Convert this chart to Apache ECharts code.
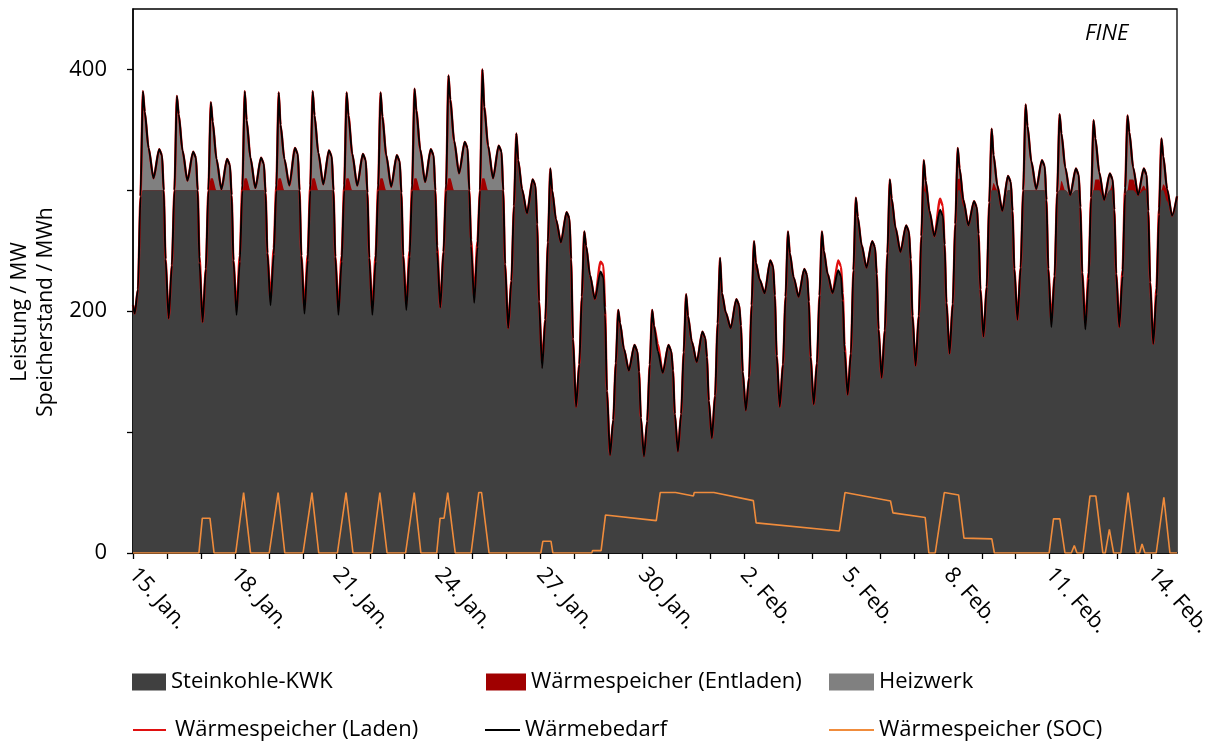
<!DOCTYPE html>
<html>
<head>
<meta charset="utf-8">
<script src="https://cdn.jsdelivr.net/npm/echarts@6/dist/echarts.min.js"></script>
<style>
  html, body { margin: 0; padding: 0; background: #fff; }
  #chart { width: 1217px; height: 747px; }
</style>
</head>
<body>
<div id="chart"></div>
<script>
// Zeitachse: Stunden ab 15. Jan. 00:00, Tagesstriche alle 24 h, Beschriftung alle 3 Tage
const tickLabels = ["15. Jan.", "18. Jan.", "21. Jan.", "24. Jan.", "27. Jan.", "30. Jan.",
                    "2. Feb.", "5. Feb.", "8. Feb.", "11. Feb.", "14. Feb."];
const endStunde = 738;

// Abtastzeitpunkte innerhalb eines Tages (Stunde des Tages)
const tagesStunden = [1.2, 3.5, 5.3, 7, 8.3, 11, 14.5, 18.5, 20.5, 21.7, 23];
const letzteStunden = [1.2, 3.5, 5.3, 7, 8.3, 11, 14.5, 18];

// Wärmebedarf in MW, eine Zeile je Tag
const bedarfStart = 205;
const bedarf = [
  [198, 218, 295, 382, 365, 335, 310, 334, 329, 300, 243],
  [194, 238, 300, 378, 363, 333, 308, 332, 327, 300, 240],
  [191, 235, 300, 373, 357, 326, 301, 326, 321, 296, 242],
  [197, 241, 300, 382, 358, 327, 302, 327, 322, 298, 248],
  [205, 247, 300, 381, 354, 326, 304, 335, 330, 300, 246],
  [198, 242, 300, 382, 362, 331, 305, 333, 328, 300, 245],
  [197, 241, 300, 381, 362, 330, 304, 330, 325, 298, 244],
  [197, 241, 300, 381, 361, 329, 303, 329, 324, 298, 246],
  [201, 245, 300, 384, 366, 334, 307, 334, 329, 300, 249],
  [203, 249, 300, 395, 375, 341, 314, 340, 335, 300, 254],
  [207, 253, 300, 400, 369, 337, 310, 337, 332, 300, 239],
  [186, 225, 287, 347, 325, 301, 281, 309, 304, 272, 208],
  [153, 193, 257, 318, 300, 276, 257, 282, 277, 243, 177],
  [121, 156, 212, 266, 254, 230, 210, 233, 228, 197, 134],
  [81, 110, 157, 201, 190, 169, 151, 172, 167, 150, 112],
  [80, 109, 156, 201, 188, 167, 149, 172, 167, 151, 115],
  [84, 115, 166, 214, 196, 175, 158, 183, 178, 162, 126],
  [95, 130, 190, 244, 215, 199, 186, 210, 205, 188, 150],
  [118, 145, 205, 258, 240, 226, 215, 242, 237, 213, 163],
  [121, 156, 212, 266, 248, 228, 212, 235, 230, 208, 162],
  [123, 157, 213, 266, 250, 231, 215, 234, 229, 209, 167],
  [131, 165, 234, 294, 278, 255, 236, 258, 253, 231, 185],
  [145, 184, 248, 309, 293, 269, 249, 271, 266, 243, 196],
  [155, 196, 262, 325, 308, 283, 262, 284, 279, 255, 207],
  [165, 206, 272, 335, 318, 292, 271, 291, 286, 264, 218],
  [179, 220, 290, 351, 329, 304, 283, 312, 307, 283, 235],
  [193, 236, 300, 371, 353, 324, 301, 325, 320, 292, 235],
  [187, 229, 298, 363, 347, 319, 296, 318, 313, 286, 232],
  [185, 227, 294, 358, 343, 315, 292, 314, 309, 284, 231],
  [187, 229, 297, 362, 348, 319, 296, 318, 313, 283, 224],
  [173, 214, 280, 343, 328, 301, 279, 295]
];

// Heizwerk in MW
const heizwerk = [
  [0, 0, 0, 82, 65, 35, 10, 34, 29, 0, 0],
  [0, 0, 0, 78, 63, 33, 8, 32, 27, 0, 0],
  [0, 0, 0, 63, 47, 26, 1, 26, 21, 0, 0],
  [0, 0, 0, 72, 48, 27, 2, 27, 22, 0, 0],
  [0, 0, 0, 71, 44, 26, 4, 35, 30, 0, 0],
  [0, 0, 0, 72, 52, 31, 5, 33, 28, 0, 0],
  [0, 0, 0, 71, 52, 30, 4, 30, 25, 0, 0],
  [0, 0, 0, 71, 51, 29, 3, 29, 24, 0, 0],
  [0, 0, 0, 74, 56, 34, 7, 34, 29, 0, 0],
  [0, 0, 0, 85, 65, 41, 14, 40, 35, 0, 0],
  [0, 0, 0, 90, 59, 37, 10, 37, 32, 0, 0],
  [0, 0, 0, 0, 0, 0, 0, 0, 0, 0, 0],
  [0, 0, 0, 0, 0, 0, 0, 0, 0, 0, 0],
  [0, 0, 0, 0, 0, 0, 0, 0, 0, 0, 0],
  [0, 0, 0, 0, 0, 0, 0, 0, 0, 0, 0],
  [0, 0, 0, 0, 0, 0, 0, 0, 0, 0, 0],
  [0, 0, 0, 0, 0, 0, 0, 0, 0, 0, 0],
  [0, 0, 0, 0, 0, 0, 0, 0, 0, 0, 0],
  [0, 0, 0, 0, 0, 0, 0, 0, 0, 0, 0],
  [0, 0, 0, 0, 0, 0, 0, 0, 0, 0, 0],
  [0, 0, 0, 0, 0, 0, 0, 0, 0, 0, 0],
  [0, 0, 0, 0, 0, 0, 0, 0, 0, 0, 0],
  [0, 0, 0, 0, 0, 0, 0, 0, 0, 0, 0],
  [0, 0, 0, 25, 0, 0, 0, 0, 0, 0, 0],
  [0, 0, 0, 26, 8, 0, 0, 0, 0, 0, 0],
  [0, 0, 0, 51, 23, 4, 0, 12, 7, 0, 0],
  [0, 0, 0, 71, 53, 24, 1, 25, 20, 0, 0],
  [0, 0, 0, 63, 39, 19, 0, 18, 13, 0, 0],
  [0, 0, 0, 58, 34, 6, 0, 14, 3, 0, 0],
  [0, 0, 0, 62, 39, 10, 0, 14, 13, 0, 0],
  [0, 0, 0, 43, 23, 0, 0, 0]
];

// Wärmespeicher Entladeleistung in MW
const entladen = [
  [0, 0, 0, 0, 0, 0, 0, 0, 0, 0, 0],
  [0, 0, 0, 0, 0, 0, 0, 0, 0, 0, 0],
  [0, 0, 0, 10, 10, 0, 0, 0, 0, 0, 0],
  [0, 0, 0, 10, 10, 0, 0, 0, 0, 0, 0],
  [0, 0, 0, 10, 10, 0, 0, 0, 0, 0, 0],
  [0, 0, 0, 10, 10, 0, 0, 0, 0, 0, 0],
  [0, 0, 0, 10, 10, 0, 0, 0, 0, 0, 0],
  [0, 0, 0, 10, 10, 0, 0, 0, 0, 0, 0],
  [0, 0, 0, 10, 10, 0, 0, 0, 0, 0, 0],
  [0, 0, 0, 10, 10, 0, 0, 0, 0, 0, 0],
  [0, 0, 0, 10, 10, 0, 0, 0, 0, 0, 0],
  [0, 0, 0, 0, 0, 0, 0, 0, 0, 0, 0],
  [0, 0, 0, 0, 7, 0, 0, 0, 0, 0, 0],
  [0, 0, 0, 0, 0, 0, 0, 0, 0, 0, 0],
  [0, 0, 0, 0, 0, 0, 0, 0, 0, 0, 0],
  [0, 0, 0, 0, 0, 0, 0, 0, 0, 0, 0],
  [0, 0, 0, 0, 0, 0, 0, 0, 0, 0, 0],
  [0, 0, 0, 0, 0, 0, 0, 0, 0, 0, 0],
  [0, 0, 0, 9, 6, 0, 0, 0, 0, 0, 0],
  [0, 0, 0, 0, 0, 0, 0, 0, 0, 0, 0],
  [0, 0, 0, 0, 0, 0, 0, 0, 0, 0, 0],
  [0, 0, 0, 0, 0, 0, 0, 0, 0, 0, 0],
  [0, 0, 0, 0, 6, 0, 0, 0, 0, 0, 0],
  [0, 0, 0, 0, 10, 2, 0, 0, 0, 0, 0],
  [0, 0, 0, 9, 10, 5, 0, 0, 0, 0, 0],
  [0, 0, 0, 0, 6, 0, 0, 0, 0, 0, 0],
  [0, 0, 0, 0, 0, 0, 0, 0, 0, 0, 0],
  [0, 0, 0, 0, 8, 0, 0, 0, 0, 0, 0],
  [0, 0, 0, 0, 9, 9, 0, 0, 6, 0, 0],
  [0, 0, 0, 0, 9, 9, 0, 4, 0, 0, 0],
  [0, 0, 0, 0, 5, 10, 0, 0]
];

// Wärmespeicher Ladeleistung in MW (zusätzlich zum Bedarf)
const laden = [
  [0, 0, 0, 0, 0, 0, 0, 0, 0, 0, 0],
  [0, 0, 0, 0, 0, 0, 0, 0, 0, 0, 5],
  [0, 0, 0, 0, 0, 0, 0, 0, 0, 0, 0],
  [5, 5, 4, 0, 0, 0, 0, 0, 0, 0, 0],
  [5, 5, 4, 0, 0, 0, 0, 0, 0, 0, 0],
  [5, 5, 4, 0, 0, 0, 0, 0, 0, 0, 0],
  [5, 5, 4, 0, 0, 0, 0, 0, 0, 0, 0],
  [5, 5, 4, 0, 0, 0, 0, 0, 0, 0, 0],
  [5, 5, 4, 0, 0, 0, 0, 0, 0, 0, 5],
  [0, 0, 4, 0, 0, 0, 0, 0, 0, 0, 5],
  [5, 5, 0, 0, 0, 0, 0, 0, 0, 0, 0],
  [0, 0, 0, 0, 0, 0, 0, 0, 0, 0, 0],
  [5, 0, 0, 0, 0, 0, 0, 0, 0, 0, 0],
  [0, 0, 0, 0, 0, 0, 0, 8, 10, 6, 0],
  [0, 0, 0, 0, 0, 0, 0, 0, 0, 0, 0],
  [0, 0, 0, 0, 0, 6, 0, 0, 0, 0, 0],
  [0, 0, 0, 0, 0, 0, 0, 0, 0, 0, 0],
  [0, 0, 0, 0, 0, 0, 0, 0, 0, 0, 0],
  [0, 0, 0, 0, 0, 0, 0, 0, 0, 0, 0],
  [0, 0, 0, 0, 0, 0, 0, 0, 0, 0, 0],
  [0, 0, 0, 0, 0, 0, 0, 8, 8, 6, 5],
  [0, 0, 0, 0, 0, 0, 0, 0, 0, 0, 0],
  [0, 0, 0, 0, 0, 0, 0, 0, 0, 0, 0],
  [0, 0, 0, 0, 0, 0, 0, 9, 8, 0, 0],
  [0, 0, 0, 0, 0, 0, 0, 0, 0, 0, 0],
  [0, 0, 0, 0, 0, 0, 0, 0, 0, 0, 0],
  [0, 0, 0, 0, 0, 0, 0, 0, 0, 0, 0],
  [5, 0, 0, 0, 0, 0, 0, 0, 0, 0, 0],
  [5, 5, 0, 0, 0, 0, 0, 0, 0, 0, 0],
  [0, 5, 5, 0, 0, 0, 0, 0, 0, 0, 0],
  [0, 5, 5, 0, 0, 0, 0, 0]
];

// Speicherstand (SOC) in MWh mit eigenen Zeitpunkten (Stunden)
const socStunden = [0, 46.6, 49, 54.4, 57.3, 72.6, 78.2, 83.1, 96.3, 102.6, 107.3,
  120.2, 126.5, 131.3, 144.5, 150.6, 155.5, 168.9, 174.5, 179.6, 192.7, 198.8, 203.5,
  214.7, 217.1, 219.9, 222.5, 227.8, 239, 244.4, 246.4, 251.7, 288.3, 289.7, 295.5, 296.8,
  324.3, 324.9, 330.9, 334, 369.9, 372.7, 383.5, 396.2, 396.7, 410.6, 438.5, 440.5,
  499.3, 503.3, 535.5, 537.2, 560, 562.6, 567.1, 573.5, 583.6, 587.4, 607.1, 608.9,
  647.6, 650.7, 655.2, 658.8, 663.3, 665.4, 667.3, 671.6, 676.5, 680.6, 685.6,
  687.3, 690.2, 693.2, 698.3, 703.4, 709, 711.5, 713.3, 715.3, 723.3, 728.7, 733, 738];
const soc = [0, 0, 28.8, 28.8, 0, 0, 50, 0, 0, 50, 0,
  0, 50, 0, 0, 50, 0, 0, 50, 0, 0, 50, 0,
  0, 28.8, 28.8, 50, 0, 0, 50, 50, 0, 0, 9.7, 9.7, 0,
  0, 2, 2, 31.4, 26.8, 50, 50, 47.2, 50, 50, 43.3, 24.9,
  18.2, 50, 43, 33.2, 29.3, 0, 0, 50, 48, 12.3, 11.7, 0,
  0, 28.2, 28.2, 0, 0, 6.1, 0, 0, 47.2, 47.2, 0,
  0, 19.6, 0, 0, 50, 0, 0, 7.5, 0, 0, 46, 0, 0];

// Zeilen je Tag in [Stunde, Wert]-Paare umsetzen
function zeitreihe(rows, startWert) {
  const out = [[0, startWert]];
  rows.forEach((row, d) => {
    const hs = d === rows.length - 1 ? letzteStunden : tagesStunden;
    row.forEach((v, i) => out.push([d * 24 + hs[i], v]));
  });
  return out;
}
// Obergrenzen der Flächen: KWK, KWK + Entladen, KWK + Entladen + Heizwerk (= Bedarf)
const kwkRows = bedarf.map((row, d) => row.map((v, i) => v - heizwerk[d][i] - entladen[d][i]));
const kwkEntRows = bedarf.map((row, d) => row.map((v, i) => v - heizwerk[d][i]));
const ladenRows = bedarf.map((row, d) => row.map((v, i) => v + laden[d][i]));

const dataKwk = zeitreihe(kwkRows, bedarfStart);
const dataEntladen = zeitreihe(kwkEntRows, bedarfStart);
const dataHeizwerk = zeitreihe(bedarf, bedarfStart);
const dataBedarf = zeitreihe(bedarf, bedarfStart);
const dataLaden = zeitreihe(ladenRows, bedarfStart);
const dataSoc = socStunden.map((h, i) => [h, soc[i]]);

const tageTicks = [];
for (let h = 0; h <= 720; h += 24) tageTicks.push(h);
const labelTicks = tickLabels.map((_, i) => i * 72);

const FONT = "'Open Sans', sans-serif";
const COL_KWK = '#404040', COL_ENT = '#a00000', COL_HEIZ = '#808080',
      COL_LADEN = '#e01010', COL_BEDARF = '#000000', COL_SOC = '#f08c3c';
const GLATT = 0.25;

// Flächen überlagert von 0 bis zur jeweiligen Obergrenze
function areaSeries(name, data, color, z) {
  return {
    name, type: 'line', data, symbol: 'none', silent: true,
    smooth: GLATT, smoothMonotone: 'x',
    itemStyle: { color }, lineStyle: { width: 0, color },
    areaStyle: { color, opacity: 1, origin: 0 }, z
  };
}

function legendItem(name, left, top, icon, w, h, textLeft) {
  return {
    data: [name], left, top, icon, itemWidth: w, itemHeight: h, itemGap: 0,
    selectedMode: false, padding: 0,
    textStyle: { fontFamily: FONT, fontSize: 22, color: '#000', padding: [0, 0, 0, textLeft] }
  };
}

const chart = echarts.init(document.getElementById('chart'), null, { renderer: 'canvas' });
chart.setOption({
  animation: false,
  backgroundColor: '#fff',
  grid: { left: 133, right: 40, top: 9, bottom: 194, show: true, borderColor: '#000', borderWidth: 1.3, backgroundColor: 'transparent' },
  xAxis: {
    type: 'value', min: 0, max: endStunde,
    axisLine: { lineStyle: { color: '#000', width: 1.5 } },
    axisTick: { show: true, length: 6, lineStyle: { color: '#000', width: 1.3 }, customValues: tageTicks },
    axisLabel: {
      customValues: labelTicks, rotate: -48, margin: 18,
      fontFamily: FONT, fontSize: 22, color: '#000',
      formatter: v => tickLabels[Math.round(v / 72)]
    },
    splitLine: { show: false }
  },
  yAxis: {
    type: 'value', min: 0, max: 450, interval: 50,
    axisLine: { show: true, lineStyle: { color: '#000', width: 1.5 } },
    axisTick: { show: true, length: 6, lineStyle: { color: '#000', width: 1.3 }, customValues: [0, 100, 200, 300, 400] },
    axisLabel: { customValues: [0, 200, 400], margin: 26, fontFamily: FONT, fontSize: 22, color: '#000' },
    splitLine: { show: false }
  },
  legend: [
    legendItem('Steinkohle-KWK', 132, 671, 'rect', 34, 17, 0),
    legendItem('Wärmespeicher (Entladen)', 486, 671, 'rect', 40, 17, 0),
    legendItem('Heizwerk', 829, 671, 'rect', 45, 17, 0),
    legendItem('Wärmespeicher (Laden)', 133, 719, 'rect', 33, 2, 4),
    legendItem('Wärmebedarf', 485, 719, 'rect', 35, 2, 0),
    legendItem('Wärmespeicher (SOC)', 829, 719, 'rect', 45, 2, 0)
  ],
  graphic: {
    elements: [
      {
        type: 'text', x: 1085, y: 23, z: 100,
        style: { text: 'FINE', font: "italic 22px 'Open Sans', sans-serif", fill: '#000' }
      },
      {
        type: 'text', x: 33, y: 312, rotation: Math.PI / 2, z: 100,
        style: {
          text: 'Leistung / MW\nSpeicherstand / MWh', font: "21px 'Open Sans', sans-serif",
          fill: '#000', align: 'center', verticalAlign: 'middle', lineHeight: 26
        }
      }
    ]
  },
  series: [
    areaSeries('Heizwerk', dataHeizwerk, COL_HEIZ, 1),
    areaSeries('Wärmespeicher (Entladen)', dataEntladen, COL_ENT, 2),
    areaSeries('Steinkohle-KWK', dataKwk, COL_KWK, 3),
    {
      name: 'Wärmespeicher (Laden)', type: 'line', data: dataLaden, symbol: 'none', silent: true,
      smooth: GLATT, smoothMonotone: 'x',
      itemStyle: { color: COL_LADEN }, lineStyle: { color: COL_LADEN, width: 2.4 }, z: 5
    },
    {
      name: 'Wärmebedarf', type: 'line', data: dataBedarf, symbol: 'none', silent: true,
      smooth: GLATT, smoothMonotone: 'x',
      itemStyle: { color: COL_BEDARF }, lineStyle: { color: COL_BEDARF, width: 1.9 }, z: 6
    },
    {
      name: 'Wärmespeicher (SOC)', type: 'line', data: dataSoc, symbol: 'none', silent: true,
      itemStyle: { color: COL_SOC }, lineStyle: { color: COL_SOC, width: 1.6 }, z: 7
    }
  ]
});
</script>
</body>
</html>
